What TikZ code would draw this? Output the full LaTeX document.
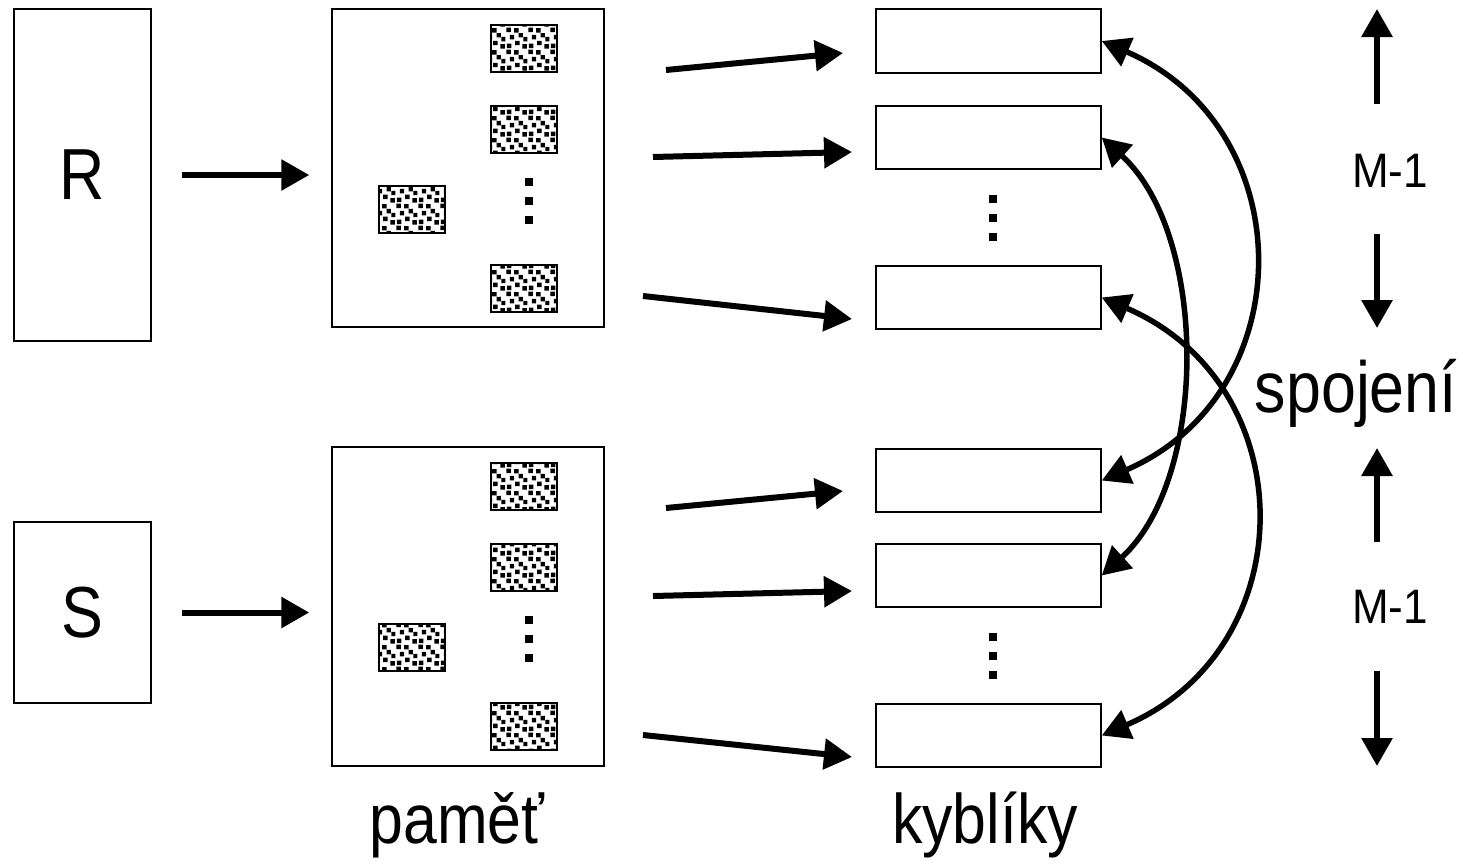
\documentclass[tikz,border=0pt]{standalone}
\usepackage{fontspec}
\setmainfont{Liberation Sans}
\usetikzlibrary{arrows.meta,patterns}

\pgfdeclarepatternformonly{speckle}{\pgfpointorigin}{\pgfpoint{22pt}{22pt}}{\pgfpoint{22pt}{22pt}}{%
  \pgfpathrectangle{\pgfpoint{1pt}{1pt}}{\pgfpoint{4.5pt}{4.5pt}}%
  \pgfpathrectangle{\pgfpoint{9.5pt}{4pt}}{\pgfpoint{4.5pt}{4.5pt}}%
  \pgfpathrectangle{\pgfpoint{17pt}{0.5pt}}{\pgfpoint{4.5pt}{4.5pt}}%
  \pgfpathrectangle{\pgfpoint{4pt}{10pt}}{\pgfpoint{4.5pt}{4.5pt}}%
  \pgfpathrectangle{\pgfpoint{13pt}{12pt}}{\pgfpoint{4.5pt}{4.5pt}}%
  \pgfpathrectangle{\pgfpoint{0.5pt}{17.5pt}}{\pgfpoint{4.5pt}{4.5pt}}%
  \pgfpathrectangle{\pgfpoint{8.5pt}{17pt}}{\pgfpoint{4.5pt}{4.5pt}}%
  \pgfpathrectangle{\pgfpoint{18pt}{8pt}}{\pgfpoint{4pt}{4.5pt}}%
  \pgfusepath{fill}%
}

\tikzset{
  box/.style={draw, line width=1.5pt, inner sep=0pt},
  blk/.style={draw, line width=2pt, pattern=speckle, minimum width=66pt, minimum height=47pt, inner sep=0pt},
  sq/.style={fill=black, minimum size=8.5pt, inner sep=0pt},
  arr/.style={line width=6pt, -{Triangle[length=28pt,width=30pt]}},
  darr/.style={line width=5.5pt, {Triangle[length=28pt,width=30pt]}-{Triangle[length=28pt,width=30pt]}},
  big/.style={inner sep=0pt, font=\fontsize{62}{62}\selectfont},
  mid/.style={inner sep=0pt, font=\fontsize{44}{44}\selectfont},
}
\newcommand{\tall}[1]{\scalebox{0.98}[1.13]{#1}}

\begin{document}
\begin{tikzpicture}[x=1pt, y=-1pt]
\useasboundingbox (0,0) rectangle (1463,863);

% relations
\node[box, minimum width=137pt, minimum height=332pt, font=\fontsize{64}{64}\selectfont] (R) at (82.5,175) {\tall{R}};
\node[box, minimum width=137pt, minimum height=181pt, font=\fontsize{64}{64}\selectfont] (S) at (82.5,612.5) {\tall{S}};

% memory boxes
\node[box, minimum width=272pt, minimum height=318pt] (memR) at (468,168) {};
\node[box, minimum width=272pt, minimum height=319pt] (memS) at (468,606.5) {};

% patterned blocks, top
\node[blk] (pr1) at (524,48) {};
\node[blk] (pr2) at (524,129) {};
\node[blk] (pr3) at (524,288.5) {};
\node[blk] (prin) at (412,209) {};
\node[sq] (dr1) at (529,182) {};
\node[sq] (dr2) at (529,201) {};
\node[sq] (dr3) at (529,220) {};
% patterned blocks, bottom
\node[blk] (ps1) at (524,486.5) {};
\node[blk] (ps2) at (524,567) {};
\node[blk] (ps3) at (524,726.5) {};
\node[blk] (psin) at (412,647) {};
\node[sq] (ds1) at (529,620) {};
\node[sq] (ds2) at (529,639) {};
\node[sq] (ds3) at (529,658) {};

% buckets
\node[box, minimum width=225pt, minimum height=64pt] (b1) at (988.5,41) {};
\node[box, minimum width=225pt, minimum height=63pt] (b2) at (988.5,137.5) {};
\node[box, minimum width=225pt, minimum height=63pt] (b3) at (988.5,297.5) {};
\node[sq] (bd1) at (993,199) {};
\node[sq] (bd2) at (993,218) {};
\node[sq] (bd3) at (993,237) {};
\node[box, minimum width=225pt, minimum height=63pt] (c1) at (988.5,480.5) {};
\node[box, minimum width=225pt, minimum height=63pt] (c2) at (988.5,575.5) {};
\node[box, minimum width=225pt, minimum height=63pt] (c3) at (988.5,735.5) {};
\node[sq] (cd1) at (993,637) {};
\node[sq] (cd2) at (993,656) {};
\node[sq] (cd3) at (993,675) {};

% arrows into memory
\draw[arr, shorten <=30pt, shorten >=22pt] (R.east) -- (R.east -| memR.west);
\draw[arr, shorten <=30pt, shorten >=22pt] (S.east) -- (S.east -| memS.west);

% arrows memory -> buckets
\coordinate (a1s) at (666,70);  \coordinate (a1e) at (843,53);
\coordinate (a2s) at (653,157); \coordinate (a2e) at (852,152);
\coordinate (a3s) at (643,296); \coordinate (a3e) at (852,319);
\coordinate (e1s) at (666,508); \coordinate (e1e) at (843,491);
\coordinate (e2s) at (653,596); \coordinate (e2e) at (852,591);
\coordinate (e3s) at (643,735); \coordinate (e3e) at (852,757);
\draw[arr] (a1s) -- (a1e);
\draw[arr] (a2s) -- (a2e);
\draw[arr] (a3s) -- (a3e);
\draw[arr] (e1s) -- (e1e);
\draw[arr] (e2s) -- (e2e);
\draw[arr] (e3s) -- (e3e);

% join curves
\draw[darr] (b1.east) .. controls +(201,87) and +(201,-87) .. (c1.east);
\draw[darr] (b2.east) .. controls +(107,97) and +(107,-97) .. (c2.east);
\draw[darr] (b3.east) .. controls +(203,87) and +(203,-87) .. (c3.east);

% right side
\coordinate (u1s) at (1377,104); \coordinate (u1e) at (1377,9);
\coordinate (d1s) at (1377,234); \coordinate (d1e) at (1377,328);
\coordinate (u2s) at (1377,542); \coordinate (u2e) at (1377,448);
\coordinate (d2s) at (1377,671); \coordinate (d2e) at (1377,766);
\draw[arr] (u1s) -- (u1e);
\draw[arr] (d1s) -- (d1e);
\draw[arr] (u2s) -- (u2e);
\draw[arr] (d2s) -- (d2e);
\node[mid] (m1) at (1390,171) {\scalebox{1}[1.1]{M-1}};
\node[mid] (m2) at (1390,607) {\scalebox{1}[1.1]{M-1}};
\node[big, anchor=base, font=\fontsize{64}{64}\selectfont] (spoj) at (1356,412) {\tall{spojení}};

% bottom labels
\node[big, anchor=base] (pam) at (457,843) {\tall{paměť}};
\node[big, anchor=base] (kyb) at (985,843) {\tall{kyblíky}};
\end{tikzpicture}
\end{document}
